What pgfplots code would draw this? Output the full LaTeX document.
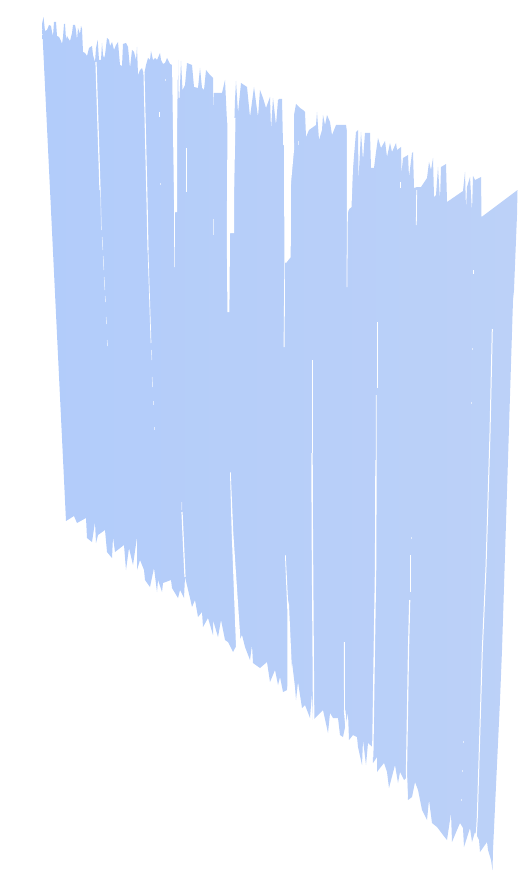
\documentclass[border=0pt]{standalone}
\usepackage{pgfplots}
\pgfplotsset{compat=1.18}
\definecolor{SheetL}{HTML}{B2CCFA}
\definecolor{SheetR}{HTML}{BCD1F8}
\pgfplotsset{
  gap/.style={draw=none,fill=white},
  cut/.style={white,line width=#1},
  cut/.default=0.8pt,
  faint/.style={white,line width=#1,opacity=0.6},
  faint/.default=0.7pt,
}
\begin{document}
\begin{tikzpicture}
% hide axis leaves the box out of the bounding box, so fix the page size here
\useasboundingbox (0,0) rectangle (531bp,871bp);
\begin{axis}[
    anchor=south west,
    at={(0,0)},
    scale only axis,
    width=531bp,
    height=871bp,
    xmin=0, xmax=531,
    ymin=0, ymax=871,
    y dir=reverse,
    hide axis,
]
% the sheet: top edge left to right, then bottom edge right to left
\addplot[draw=none,left color=SheetL,right color=SheetR] coordinates {
(42,24) (43.5,17) (45,31) (47,30) (49,25) (51,26) (52,32) (53,36) (54,22) (56,22) (57,36) (59,37)
(61,41) (62,44) (63,37) (64,24) (65,24) (66,39) (67,36) (68,38) (70,41) (72,33) (73,25) (75,25)
(76,30) (77,40) (78,28) (80,34) (81,26) (82,29) (83,52) (85,53) (87,56) (89,48) (92,46) (93,55)
(95,62) (96,48) (97.7,40) (99,60) (101,60) (102,43) (103,55) (104,58) (105,55) (107,38) (109,40)
(110,46) (112,42) (114,50) (116,45) (118,42) (120,65) (122,66) (123,44) (126,43) (128,47) (130,68)
(132,50) (134,52) (136,60) (137,47) (138,75) (140,70) (142,68) (144,75) (146,65) (148,58) (150,60)
(151,51) (153,60) (155,58) (157,60) (160,53) (161,60) (163,64) (165,63) (167,58) (170,64) (172,65)
(178,60) (178.6,98) (179.5,98) (181,61) (182.5,90) (185,85) (187,63) (192,65) (194,87) (198,88) (200,68) (202,88)
(204,90) (206,70) (210,75) (213,78) (213.5,117) (214,93) (222,93) (225,80) (227,122)
(234,133) (235,100) (236,81) (238,113) (241,83) (247,87) (250,117) (254,87) (258,117) (260,90) (263,98)
(266,108) (270,97) (271,130) (273,98) (276,125) (278,100) (279,99) (282,99) (283,145)
(294,150) (294,115) (296,104) (300,108) (303,110) (305,112) (306,137) (309,130) (316,125) (317,112)
(319,140) (322,130) (323,115) (325,125) (327,115) (330,122) (332,135) (336,125) (346,125)
(353,168) (356,132) (358,130) (358.5,180) (361,132) (363,160) (365,133) (370,133) (371,168) (374,168)
(376,152) (378,138) (381,148) (385,141) (387,157) (390,143) (392,152) (396,143) (397,150) (401,147)
(401.5,173) (403,158) (408,155) (409,177) (412,153) (413,152) (414,188) (417,187) (421,187)
(427,178) (429,162) (431,170) (433,158) (434,197) (436,195) (438,167) (440,200) (441,167)
(446,164) (447,202) (463,191) (465,172) (466,210) (467,187) (470,177) (472,212) (473,176)
(475,180) (481,177) (481.5,217) (517.5,190)
(517,215) (514,290) (513,300) (502,650) (500,700) (493,850) (492.5,870)
(491,860) (488,850) (487,842) (480,852) (479,840) (475,832) (472,842) (470,828) (464,847) (463,828)
(460,823) (457,830) (452,842) (451,813) (447,840) (443,835) (437,827) (432,823) (429,800) (427,820)
(422,810) (418,790) (415,782) (412,797) (408,800) (407,777) (404,780) (400,772) (398,783) (395,765)
(389,788) (387,772) (384,763) (380,768) (377,772) (377,757) (373,763) (372.5,747) (368,743) (366,765)
(363,740) (362,765) (358,747) (357,737) (353,735) (349,740) (348,713) (343,737) (340,735)
(338,718) (333,718) (330,713) (328,733) (323,710) (318,715) (313,720) (312,693) (310,718) (305,705)
(302,708) (298,682) (296,700) (295,687) (292,662) (287,690) (283,692) (280,677) (278,685) (275,670)
(270,682) (267,662) (260,668) (253,663) (252,645) (250,660) (245,647) (242,635) (233,652)
(228,642) (225,640) (221,620) (218,637) (213,620) (213,635) (208,618) (203,627) (202,612)
(198,617) (195,600) (192,607) (190,598) (185,577) (184,598) (180,590) (178,598) (172,588)
(171,580) (163,583) (162,592) (158,580) (157,592) (154,568) (150,587) (145,580) (144,570)
(140,560) (137,570) (137,537) (133,565) (129,548) (126,570) (124,545) (115,552) (113,537)
(112,558) (107,552) (105,530) (98,535) (96,543) (95,522) (92,542) (87,538) (86,518)
(77,523) (74,516) (66,521)
} --cycle;

% wide openings
\addplot[gap] coordinates {(172,60) (178,60) (177,137) (177,212) (175,212) (174.6,267) (174,267) (174,200)} --cycle;
\addplot[gap] coordinates {(227.5,118) (235.5,118) (234,200) (234,233) (230,233) (229.4,312) (227.4,312) (226.8,233)} --cycle;
\addplot[gap] coordinates {(230,472) (230.7,472) (233.3,533) (240,633) (241,660) (236.5,660) (231.7,533)} --cycle;
\addplot[gap] coordinates {(284,143) (294,143) (294,150) (291,183) (290.7,257) (286,263) (285,262) (284.6,347) (283.6,347) (284.4,263)} --cycle;
\addplot[gap] coordinates {(285,555) (285.7,555) (288,600) (289,605) (291.5,660) (292,695) (287.3,695) (287.3,610)} --cycle;
\addplot[gap] coordinates {(347,120) (353,120) (353,168) (351.5,207) (349,209) (347.8,213) (347.3,287) (346.7,287) (346.8,213)} --cycle;

% long slits
\addplot[cut=1.2pt] coordinates {(96,62) (100,190)};
\addplot[faint] coordinates {(100.4,190) (101.5,230)};
\addplot[faint] coordinates {(102.3,237) (102.7,250)};
\addplot[faint] coordinates {(103.3,256) (103.7,270)};
\addplot[faint] coordinates {(104.3,277) (104.7,290)};
\addplot[faint] coordinates {(105.3,296) (105.5,302)};
\addplot[faint] coordinates {(106.3,317) (106.5,324)};
\addplot[faint] coordinates {(107.3,340) (107.5,346)};

\addplot[cut=1.1pt] coordinates {(144,73) (147,200) (148,250)};
\addplot[cut=0.7pt] coordinates {(148,250) (151,343)};
\addplot[faint] coordinates {(151.5,350) (151.7,360)};
\addplot[faint] coordinates {(152.3,377) (152.5,387)};
\addplot[faint] coordinates {(153.3,401) (153.3,405)};
\addplot[faint] coordinates {(154.3,427) (154.3,430)};

\addplot[faint] coordinates {(181.7,502) (181.8,510)};
\addplot[cut=1.2pt] coordinates {(182,512) (185,577)};

\addplot[cut] coordinates {(312.3,360) (312.3,453)};
\addplot[cut=1.4pt] coordinates {(312,453) (312.3,530) (313.5,700) (313.7,722)};
\addplot[cut=0.9pt] coordinates {(344.3,642) (344.5,710)};
\addplot[cut=1.6pt] coordinates {(344.6,710) (347,737)};
\addplot[cut=0.7pt] coordinates {(377.3,322) (377.3,388)};
\addplot[cut=0.8pt] coordinates {(376.3,395) (376.2,460)};
\addplot[cut=1.4pt] coordinates {(376,460) (375.6,567) (374.3,650) (372.7,757)};
\addplot[cut=0.7pt] coordinates {(410.3,555) (410.3,592)};
\addplot[cut=1.2pt] coordinates {(409.7,600) (408.5,650) (406.5,770) (407,797)};
\addplot[cut=1pt] coordinates {(492.3,329) (490,433) (486,567) (482.3,650) (477.3,817) (476,840)};

% short slits and specks
\addplot[faint] coordinates {(213.3,219) (213.3,235)};
\addplot[cut=0.8pt] coordinates {(159.3,112) (159.3,117)};
\addplot[cut=0.8pt] coordinates {(186,148) (186,192)};
\addplot[cut=0.8pt] coordinates {(416.7,190) (416.3,225)};
\addplot[cut=0.8pt] coordinates {(400,182) (400,188)};
\addplot[faint] coordinates {(298,141) (298,145)};
\addplot[cut=0.9pt] coordinates {(473,270) (473,274)};
\addplot[faint] coordinates {(411.3,537) (411.3,539)};
\addplot[faint] coordinates {(472.3,348) (472.3,350)};
\addplot[faint=0.5pt] coordinates {(471.7,402) (471.7,404)};
\addplot[faint] coordinates {(463,741) (463,743)};
\addplot[faint] coordinates {(462,770) (462,772)};
\addplot[faint] coordinates {(461,799) (461,801)};
\addplot[faint=0.6pt] coordinates {(160.3,183) (160.3,185)};
\addplot[faint=0.6pt] coordinates {(165,79) (165,81)};
\end{axis}
\end{tikzpicture}
\end{document}
